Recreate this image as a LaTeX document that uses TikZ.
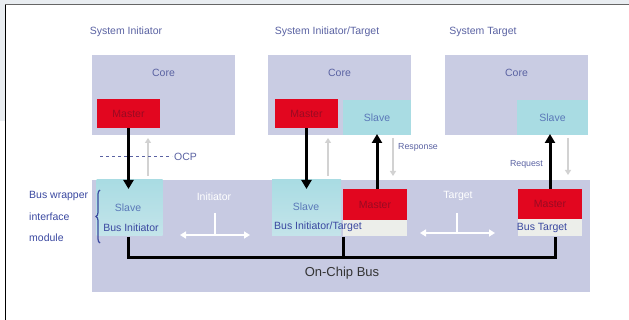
\documentclass[tikz,border=0pt]{standalone}
\usepackage{fontspec}
\setmainfont{Liberation Sans}
\usetikzlibrary{arrows.meta,decorations.pathreplacing}
\definecolor{corecol}{HTML}{C9CCE3}
\definecolor{buscol}{HTML}{C7CAE2}
\definecolor{cyancol}{HTML}{A9DCE3}
\definecolor{cyanlight}{HTML}{C4E4EA}
\definecolor{redcol}{HTML}{E2061F}
\definecolor{mtext}{HTML}{9A0A22}
\definecolor{ttext}{HTML}{5A62A2}
\definecolor{btext}{HTML}{3A48A0}
\definecolor{stext}{HTML}{5A78B8}
\definecolor{bgstrip}{HTML}{E9EDF1}
\definecolor{paleband}{HTML}{ECEEEA}
\definecolor{grayarrow}{HTML}{D2D2D2}
\begin{document}
\begin{tikzpicture}[x=1pt,y=-1pt,
  fnt/.style={font=\fontsize{10.5}{12}\selectfont},
  plain/.style={draw=none,inner sep=0pt,outer sep=0pt},
  corebox/.style={plain,fill=corecol,minimum width=143pt,minimum height=80pt},
  masterbox/.style={plain,fill=redcol,fnt,text=mtext,minimum width=63pt,minimum height=29pt},
  slavebox/.style={plain,fill=cyancol,fnt,text=stext},
  busslave/.style={plain,top color=cyancol,bottom color=cyanlight,minimum width=66pt,minimum height=56pt},
  title/.style={fnt,text=ttext,inner sep=0pt},
  lbl/.style={fnt,text=ttext,inner sep=0pt},
  blbl/.style={fnt,text=btext,inner sep=0pt},
  wlbl/.style={fnt,text=white,inner sep=0pt},
  small/.style={font=\fontsize{8.8}{10}\selectfont,text=ttext,inner sep=0pt},
  blk/.style={line width=3pt,black,-{Triangle[width=10pt,length=9pt]}},
  gry/.style={line width=2pt,grayarrow,-{Triangle[width=6pt,length=5pt]}},
  wht/.style={line width=2.6pt,white},
  busline/.style={line width=3pt,black,line join=miter}
]
\useasboundingbox (0,0) rectangle (629,320);
% frame of the page
\fill[bgstrip] (0,0) rectangle (629,4.5);
\fill[bgstrip] (0,0) rectangle (5,121);
\draw[line width=1.2pt,gray!80!black] (5,4.6) -- (629,4.6);
\draw[line width=1.2pt,black] (5.6,4.6) -- (5.6,320);

% titles
\node[title] (t1) at (126,32) {System Initiator};
\node[title] (t2) at (327,32) {System Initiator/Target};
\node[title] (t3) at (483,32) {System Target};

% cores
\node[corebox] (core1) at (163.5,95) {};
\node[corebox] (core2) at (339.5,95) {};
\node[corebox] (core3) at (516.5,95) {};
\node[lbl] (c1) at (163.5,73) {Core};
\node[lbl] (c2) at (339.5,73) {Core};
\node[lbl] (c3) at (516.5,73) {Core};

\node[masterbox] (m1) at (128.5,114) {Master};
\node[masterbox] (m2) at (306.5,114) {Master};
\node[slavebox,minimum width=68pt,minimum height=35pt] (s2) at (377,117.5) {Slave};
\node[slavebox,minimum width=71pt,minimum height=35pt] (s3) at (552.5,117.5) {Slave};

% bus area
\node[plain,fill=buscol,minimum width=498pt,minimum height=112pt] (bus) at (341,236) {};
\node[busslave] (bs1) at (129.5,208) {};
\node[busslave,minimum width=69pt] (bs2) at (306.5,208) {};
\node[plain,fill=paleband,minimum width=64pt,minimum height=16pt] (wb2) at (375,228) {};
\node[plain,fill=paleband,minimum width=64pt,minimum height=17pt] (wb3) at (550,227.5) {};
\node[masterbox,minimum width=64pt,minimum height=31pt] (bm2) at (375,204.5) {Master};
\node[masterbox,minimum width=64pt,minimum height=30pt] (bm3) at (550,204) {Master};
\node[lbl,text=stext] (bs1t) at (128,208) {Slave};
\node[lbl,text=stext] (bs2t) at (306,207) {Slave};
\node[blbl] (bi1) at (131,228) {Bus Initiator};
\node[blbl] (bi2) at (318,227) {Bus Initiator/Target};
\node[blbl] (bi3) at (542,228) {Bus Target};

% initiator / target white arrows
\node[wlbl] (ini) at (214,197) {Initiator};
\node[wlbl] (tgt) at (458,196) {Target};
\coordinate (ia) at (180,235);
\coordinate (ib) at (250,235);
\coordinate (ic) at (215,213);
\coordinate (ta) at (420,233);
\coordinate (tb) at (495,233);
\coordinate (tc) at (457,213);
\draw[wht,{Triangle[width=7pt,length=6pt]}-{Triangle[width=7pt,length=6pt]}] (ia) -- (ib);
\draw[wht] (ic) -- (ic |- ia);
\draw[wht,{Triangle[width=7pt,length=6pt]}-{Triangle[width=7pt,length=6pt]}] (ta) -- (tb);
\draw[wht] (tc) -- (tc |- ta);

% on-chip bus
\coordinate (j1) at (128,237);
\coordinate (j2) at (343,237);
\coordinate (j3) at (555,237);
\coordinate (jb) at (0,258);
\draw[busline] (j1) -- (j1 |- jb) -- (j3 |- jb) -- (j3);
\draw[busline] (j2) -- (j2 |- jb);
\node[font=\fontsize{13}{15}\selectfont,text=black!80,inner sep=0pt] (ocb) at (342,273) {On-Chip Bus};

% bus wrapper brace and label
\coordinate (br1) at (100,243);
\coordinate (br2) at (100,190);
\draw[btext,line width=1.2pt,decorate,decoration={brace,amplitude=4pt}] (br1) -- (br2);
\node[blbl,align=left,anchor=west,text=btext] (bw1) at (29,196) {Bus wrapper};
\node[blbl,align=left,anchor=west,text=btext] (bw2) at (29,217) {interface};
\node[blbl,align=left,anchor=west,text=btext] (bw3) at (29,238) {module};

% black arrows
\draw[blk,shorten >=-9pt] (m1.south) -- (m1.south |- bs1.north);
\draw[blk,shorten >=-9pt] (m2.south) -- (m2.south |- bs2.north);
\draw[blk,shorten >=-1pt] (bm2.north -| s2.south) -- (s2.south);
\draw[blk,shorten >=-1pt] (bm3.north) -- (bm3.north |- s3.south);

% gray response/request arrows
\coordinate (g1) at (148,0);
\coordinate (g2) at (328,0);
\coordinate (g3) at (393,0);
\coordinate (g4) at (568,0);
\draw[gry,shorten <=4pt,shorten >=3pt] (g1 |- bus.north) -- (g1 |- core1.south);
\draw[gry,shorten <=4pt,shorten >=3pt] (g2 |- bus.north) -- (g2 |- core2.south);
\draw[gry,shorten <=3pt,shorten >=4pt] (g3 |- core2.south) -- (g3 |- bus.north);
\draw[gry,shorten <=3pt,shorten >=5pt] (g4 |- core3.south) -- (g4 |- bus.north);

% OCP
\coordinate (oa) at (100,157);
\coordinate (ob) at (172,157);
\draw[ttext,line width=1pt,dashed] (oa) -- (ob);
\node[lbl,anchor=west] (ocp) at (174,157) {OCP};
\node[small,anchor=west] (resp) at (398,147) {Response};
\node[small,anchor=east] (req) at (543,164) {Request};
\end{tikzpicture}
\end{document}
